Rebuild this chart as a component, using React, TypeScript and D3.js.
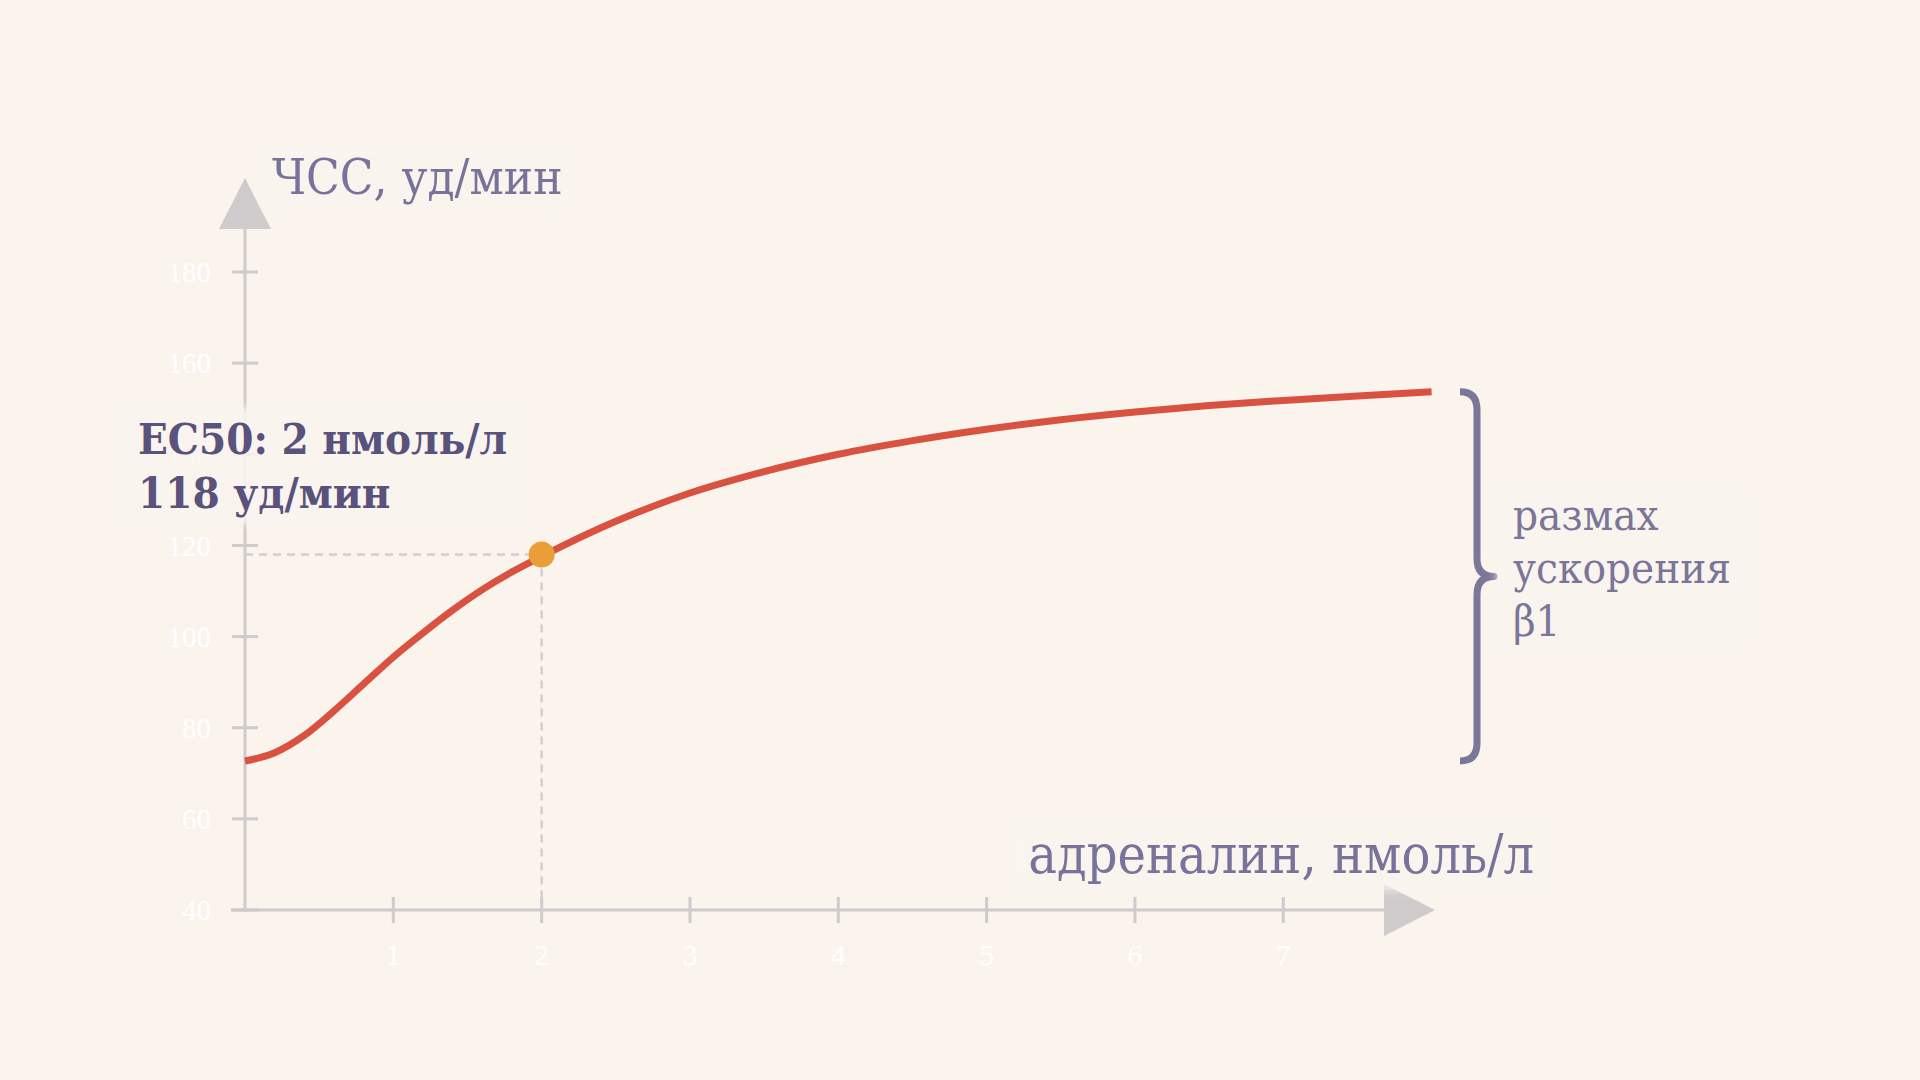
import { useEffect, useRef } from 'react';
import * as d3 from 'd3';

// adrenaline dose (nmol/l) and heart rate (bpm)
const doses = [0, 0.2, 0.4, 0.6, 0.8, 1, 1.2, 1.4, 1.6, 1.8, 2, 2.5, 3, 3.5, 4, 4.5, 5, 5.5, 6, 6.5, 7, 7.5, 8];
const heartRates = [72.7, 74.5, 78.3, 83.7, 89.6, 95.5, 100.8, 105.8, 110.3, 114.2, 117.6, 125.3, 131.5, 136.2, 140, 143, 145.5, 147.6, 149.3, 150.7, 151.8, 152.8, 153.7];

const yTicks = [40, 60, 80, 100, 120, 140, 160, 180];
const xTicks = [1, 2, 3, 4, 5, 6, 7];

const ec50Dose = 2;
const ec50Rate = 118;

const yTitle = 'ЧСС, уд/мин';
const xTitle = 'адреналин, нмоль/л';
const ec50Lines = ['EC50: 2 нмоль/л', '118 уд/мин'];
const rangeLines = ['размах', 'ускорения', 'β1'];

const W = 1920;
const H = 1080;
const BG = '#FAF4ED';
const AXIS = '#CFCACC';
const TICK_FONT = '"Liberation Serif", serif';
const LABEL_FONT = '"DejaVu Serif Condensed", "DejaVu Serif", serif';

export default function App() {
  const ref = useRef<SVGSVGElement>(null);

  useEffect(() => {
    if (!ref.current) return;
    const svg = d3.select(ref.current);
    svg.selectAll('*').remove();

    const x = d3.scaleLinear().domain([0, 8]).range([245, 1431.6]);
    const y = d3.scaleLinear().domain([40, 180]).range([910, 272]);

    const defs = svg.append('defs');
    defs.append('filter')
      .attr('id', 'halo-blur')
      .attr('x', '-20%').attr('y', '-20%')
      .attr('width', '140%').attr('height', '140%')
      .append('feGaussianBlur').attr('stdDeviation', 4);

    svg.append('rect').attr('width', W).attr('height', H).attr('fill', BG);

    const g = svg.append('g');
    const x0 = x(0);
    const y0 = y(40);

    // axes
    g.append('line')
      .attr('x1', x0).attr('x2', x0)
      .attr('y1', y0).attr('y2', 229)
      .attr('stroke', AXIS).attr('stroke-width', 3);
    g.append('line')
      .attr('x1', x0 - 14).attr('x2', 1384)
      .attr('y1', y0).attr('y2', y0)
      .attr('stroke', AXIS).attr('stroke-width', 3);

    g.append('path')
      .attr('d', `M${x0},178 L${x0 + 26},229 L${x0 - 26},229 Z`)
      .attr('fill', AXIS);
    g.append('path')
      .attr('d', `M1435,${y0} L1384,${y0 - 26} L1384,${y0 + 26} Z`)
      .attr('fill', AXIS);

    // y ticks
    g.selectAll('.ytick')
      .data(yTicks)
      .join('line')
      .attr('class', 'ytick')
      .attr('x1', x0 - 13).attr('x2', x0 + 13)
      .attr('y1', d => y(d)).attr('y2', d => y(d))
      .attr('stroke', AXIS).attr('stroke-width', 3);

    g.selectAll('.ylab')
      .data(yTicks)
      .join('text')
      .attr('class', 'ylab')
      .attr('x', 211)
      .attr('y', d => y(d))
      .attr('dy', '0.35em')
      .attr('text-anchor', 'end')
      .style('font-family', TICK_FONT)
      .style('font-size', '29px')
      .style('fill', '#FFFFFF')
      .text(d => d);

    // x ticks
    g.selectAll('.xtick')
      .data(xTicks)
      .join('line')
      .attr('class', 'xtick')
      .attr('x1', d => x(d)).attr('x2', d => x(d))
      .attr('y1', y0 - 13).attr('y2', y0 + 13)
      .attr('stroke', AXIS).attr('stroke-width', 3);

    g.selectAll('.xlab')
      .data(xTicks)
      .join('text')
      .attr('class', 'xlab')
      .attr('x', d => x(d))
      .attr('y', 965)
      .attr('text-anchor', 'middle')
      .style('font-family', TICK_FONT)
      .style('font-size', '30px')
      .style('fill', '#FFFFFF')
      .text(d => d);

    // EC50 guides
    g.append('line')
      .attr('x1', x0).attr('x2', x(ec50Dose))
      .attr('y1', y(ec50Rate)).attr('y2', y(ec50Rate))
      .attr('stroke', '#D3CECF').attr('stroke-width', 2.5)
      .attr('stroke-dasharray', '8,6');
    g.append('line')
      .attr('x1', x(ec50Dose)).attr('x2', x(ec50Dose))
      .attr('y1', y(ec50Rate)).attr('y2', y0)
      .attr('stroke', '#D3CECF').attr('stroke-width', 2.5)
      .attr('stroke-dasharray', '8,6');

    // dose-response curve
    const points = doses.map((d, i) => [d, heartRates[i]] as [number, number]);
    const line = d3.line<[number, number]>()
      .x(d => x(d[0]))
      .y(d => y(d[1]))
      .curve(d3.curveMonotoneX);
    g.append('path')
      .datum(points)
      .attr('d', line)
      .attr('fill', 'none')
      .attr('stroke', '#D95241')
      .attr('stroke-width', 7);

    g.append('circle')
      .attr('cx', x(ec50Dose))
      .attr('cy', y(ec50Rate))
      .attr('r', 13)
      .attr('fill', '#EA9E37');

    // range brace
    const top = y(heartRates[heartRates.length - 1]);
    const bot = y(heartRates[0]);
    const mid = (top + bot) / 2;
    const bx0 = 1460;
    const bxv = 1477;
    const bxt = 1494;
    const r = 18;
    g.append('path')
      .attr('d', `M${bx0},${top} Q${bxv},${top} ${bxv},${top + r} L${bxv},${mid - r} Q${bxv},${mid} ${bxt},${mid} Q${bxv},${mid} ${bxv},${mid + r} L${bxv},${bot - r} Q${bxv},${bot} ${bx0},${bot}`)
      .attr('fill', 'none')
      .attr('stroke', '#7B7798')
      .attr('stroke-width', 7)
      .attr('stroke-linejoin', 'round');

    // labels with soft halo boxes
    const addLabel = (
      lines: string[],
      lx: number,
      ly: number,
      opts: { size: number; weight: string; fill: string; anchor: string; lh: number; padX: number; padY: number }
    ) => {
      const lg = svg.append('g');
      const box = lg.append('rect');
      const t = lg.append('text')
        .attr('x', lx).attr('y', ly)
        .attr('text-anchor', opts.anchor)
        .style('font-family', LABEL_FONT)
        .style('font-stretch', 'condensed')
        .style('font-size', `${opts.size}px`)
        .style('font-weight', opts.weight)
        .style('fill', opts.fill);
      lines.forEach((s, i) => {
        t.append('tspan').attr('x', lx).attr('y', ly + i * opts.lh).text(s);
      });
      const bb = (t.node() as SVGTextElement).getBBox();
      box
        .attr('x', bb.x - opts.padX).attr('y', bb.y - opts.padY)
        .attr('width', bb.width + opts.padX * 2).attr('height', bb.height + opts.padY * 2)
        .attr('rx', 12)
        .attr('fill', '#FAF5EF')
        .attr('opacity', 0.88)
        .attr('filter', 'url(#halo-blur)');
    };

    addLabel([yTitle], 272, 194, { size: 49, weight: 'normal', fill: '#77739A', anchor: 'start', lh: 0, padX: 10, padY: 4 });
    addLabel([xTitle], 1534, 873, { size: 53.5, weight: 'normal', fill: '#77739A', anchor: 'end', lh: 0, padX: 12, padY: 4 });
    addLabel(ec50Lines, 138, 454, { size: 43.5, weight: 'bold', fill: '#58527D', anchor: 'start', lh: 54, padX: 20, padY: 6 });
    addLabel(rangeLines, 1513, 530, { size: 43.5, weight: 'normal', fill: '#7A7699', anchor: 'start', lh: 53, padX: 16, padY: 10 });
  }, []);

  return (
    <div style={{ position: 'fixed', left: 0, top: 0, width: W, height: H, background: BG }}>
      <svg ref={ref} width={W} height={H} style={{ display: 'block' }} />
    </div>
  );
}
